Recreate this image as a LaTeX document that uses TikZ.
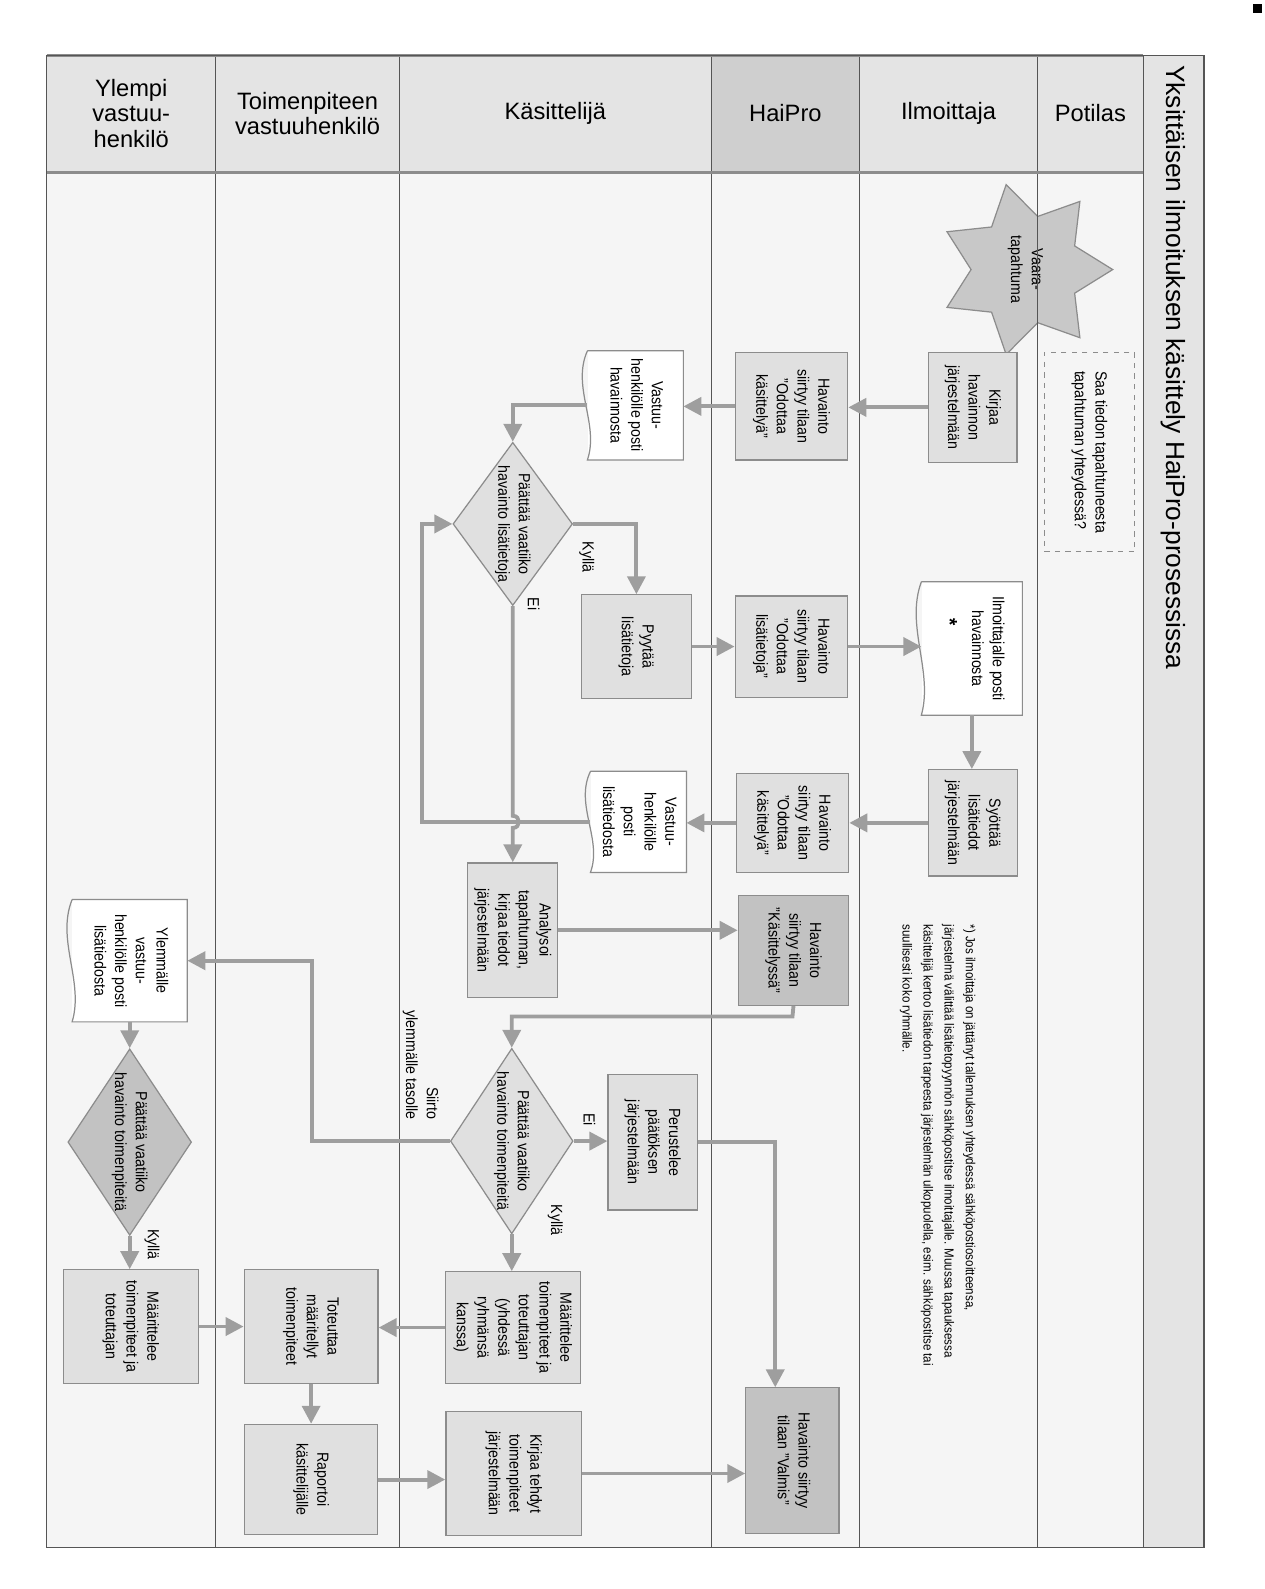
\documentclass[tikz,border=0pt]{standalone}
\usepackage{graphicx}
\usepackage{fontspec}
\setmainfont{Liberation Sans}
\newfontfamily\cond{Liberation Sans}[FakeStretch=0.88]
\usetikzlibrary{shapes.geometric,arrows.meta,calc}

\definecolor{hpbody}{HTML}{F5F5F5}
\definecolor{hphead}{HTML}{E4E4E4}
\definecolor{hphaipro}{HTML}{CFCFCF}
\definecolor{hpfill}{HTML}{E0E0E0}
\definecolor{hpdark}{HTML}{C2C2C2}
\definecolor{hpline}{HTML}{8C8C8C}
\definecolor{hparrow}{HTML}{9E9E9E}
\definecolor{hplane}{HTML}{555555}

\def\pix{0.0203cm}
\newcommand\rt[1]{\rotatebox{-90}{\begin{tabular}{@{}c@{}}#1\end{tabular}}}
\newcommand\rtl[1]{\rotatebox{-90}{\begin{tabular}{@{}l@{}}#1\end{tabular}}}
\newcommand\rtr[1]{\rotatebox{-90}{\begin{tabular}{@{}r@{}}#1\end{tabular}}}

\tikzset{
  hdr/.style={font=\fontsize{13.5}{14.5}\selectfont, align=center, inner sep=0pt},
  txt/.style={font=\cond\fontsize{9.2}{11.8}\selectfont, inner sep=0pt},
  box/.style={txt, draw=hpline, fill=hpfill, line width=0.7pt},
  darkbox/.style={box, fill=hpdark},
  doc/.style={txt, fill=white},
  decision/.style={diamond, draw=hpline, fill=hpfill, line width=0.7pt, inner sep=0pt},
  sz/.style 2 args={minimum width=#1*\pix, minimum height=#2*\pix},
  flow/.style={draw=hparrow, line width=2.2pt, -{Triangle[length=3.6mm,width=3.6mm]}},
}

\begin{document}
\begin{tikzpicture}[x=0.0203cm, y=-0.0203cm]
\useasboundingbox (0,0) rectangle (1248,1568);
\fill (1236,4) rectangle (1245,13);

% kaistat
\fill[hpbody] (46,55) rectangle (1128,1527);
\node[star, star points=7, star point ratio=1.6, shape border rotate=-90, draw=hpline, fill=hpdark!90!white,
      line width=0.7pt, inner sep=0pt, minimum size=172*\pix, label={[txt]center:{\rt{Vaara-\\tapahtuma}}}] (vaara) at (1012,266) {};
\foreach \xa/\xb/\hc/\hd in {46/213/hphead/{Ylempi\\vastuu-\\henkilö}, 213/394/hphead/{Toimenpiteen\\vastuuhenkilö},
    394/702/hphead/Käsittelijä, 702/848/hphaipro/HaiPro, 848/1024/hphead/Ilmoittaja, 1024/1128/hphead/Potilas}{
  \filldraw[fill=\hc, draw=hplane, line width=0.6pt] (\xa,55) rectangle (\xb,170);
  \draw[hplane, line width=0.6pt] (\xa,170) -- (\xa,1527);
  \node[hdr] (hd\xa) at ({(\xa+\xb)/2},112) {\hd};
}
\draw[hpline, line width=1.6pt] (46,55) -- (1128,55) (46,170) -- (1128,170);
\filldraw[fill=hphead, draw=hplane, line width=0.6pt] (1128,55) rectangle (1188,1527);
\draw[hplane, line width=0.8pt] (46,55) rectangle (1188,1527);
\node[rotate=-90, anchor=west, inner sep=0pt, font=\fontsize{15}{17}\selectfont] (otsikko) at (1158,64)
  {Yksittäisen ilmoituksen käsittely HaiPro-prosessissa};

% potilas ja ilmoittaja
\node[txt, draw=hpline, dashed, sz={89}{197}] (tieto) at (1075,446) {\rtl{Saa tiedon tapahtuneesta\\tapahtuman yhteydessä?}};
\node[box, sz={87}{108}] (kirjaa) at (960,402) {\rt{Kirjaa\\havainnon\\järjestelmään}};
\node[doc, sz={99}{131}] (posti2) at (959,640) {\rt{Ilmoittajalle posti\\havainnosta\\[5pt]{\large\bfseries *}\hspace*{30pt}}};
\node[box, sz={88}{105}] (syota) at (960,812) {\rt{Syöttää\\lisätiedot\\järjestelmään}};
\node[txt, font=\cond\fontsize{7.5}{12}\selectfont, anchor=north] (huom) at (926,912)
  {\rtl{*) Jos ilmoittaja on jättänyt tallennuksen yhteydessä sähköpostiosoitteensa,\\
  järjestelmä välittää lisätietopyynnön sähköpostitse ilmoittajalle. Muussa tapauksessa\\
  käsittelijä kertoo lisätiedon tarpeesta järjestelmän ulkopuolella, esim. sähköpostitse tai\\
  suullisesti koko ryhmälle.}};

% HaiPro
\node[box, sz={111}{106}] (hav1) at (781,401) {\rt{Havainto\\siirtyy tilaan\\”Odottaa\\käsittelyä”}};
\node[box, sz={111}{100}] (hav2) at (781,638) {\rt{Havainto\\siirtyy tilaan\\”Odottaa\\lisätietoja”}};
\node[box, sz={111}{98}] (hav3) at (782,812) {\rt{Havainto\\siirtyy tilaan\\”Odottaa\\käsittelyä”}};
\node[darkbox, sz={109}{108}] (kasittelyssa) at (783,938) {\rt{Havainto\\siirtyy tilaan\\”Käsittelyssä”}};
\node[darkbox, sz={92}{144}] (valmis) at (782,1441) {\rt{Havainto siirtyy\\tilaan ”Valmis”}};

% kasittelija
\node[doc, sz={94}{107}] (posti1) at (627,400) {\rt{Vastuu-\\henkilölle posti\\havainnosta}};
\node[decision, sz={118}{161}, label={[txt]center:{\rt{Päättää vaatiiko\\havainto lisätietoja}}}] (paat1) at (506,517) {};
\node[box, sz={108}{102}] (pyyda) at (628,638) {\rt{Pyytää\\lisätietoja}};
\node[doc, sz={94}{99}] (posti3) at (630,811) {\rt{Vastuu-\\henkilölle\\posti\\lisätiedosta}};
\node[box, sz={89}{133}] (analysoi) at (506,918) {\rt{Analysoi\\tapahtuman,\\kirjaa tiedot\\järjestelmään}};
\node[decision, sz={121}{183}, label={[txt]center:{\rt{Päättää vaatiiko\\havainto toimenpiteitä}}}] (paat2) at (505,1126) {};
\node[box, sz={88}{134}] (perustelee) at (644,1127) {\rt{Perustelee\\päätöksen\\järjestelmään}};
\node[box, sz={133}{110}] (maar1) at (506,1310) {\rt{Määrittelee\\toimenpiteet ja\\toteuttajan\\(yhdessä\\ryhmänsä\\kanssa)}};
\node[box, sz={134}{122}] (kirjaa2) at (507,1454) {\rt{Kirjaa tehdyt\\toimenpiteet\\järjestelmään}};

% toimenpiteen vastuuhenkilo
\node[box, sz={132}{112}] (toteuttaa) at (307,1309) {\rt{Toteuttaa\\määritellyt\\toimenpiteet}};
\node[box, sz={131}{109}] (raportoi) at (307,1460) {\rt{Raportoi\\käsittelijälle}};

% ylempi vastuuhenkilo
\node[doc, sz={113}{120}] (ylposti) at (128,948) {\rt{Ylemmälle\\vastuu-\\henkilölle posti\\lisätiedosta}};
\node[decision, fill=hpdark, sz={122}{184}, label={[txt]center:{\rt{Päättää vaatiiko\\havainto toimenpiteitä}}}] (ylpaat) at (128,1127) {};
\node[box, sz={133}{112}] (ylmaar) at (129,1309) {\rt{Määrittelee\\toimenpiteet ja\\toteuttajan}};

% asiakirjojen reunat
\foreach \d in {posti1,posti2,posti3,ylposti}
  \draw[hpline, line width=0.7pt] (\d.north west) -- (\d.north east) -- (\d.south east) -- (\d.south west)
    .. controls ($(\d.south west)!0.33!(\d.north west)+(12,0)$) and ($(\d.south west)!0.67!(\d.north west)+(-16,0)$) .. (\d.north west);

% yhteydet
\coordinate (kierto) at (416,811);
\coordinate (hyppy) at (506,811);
\coordinate (kaanne) at (782,1003);
\coordinate (valmisyla) at (765,1369);
\coordinate (siirto) at (308,948);

\draw[flow] (kirjaa.west) -- (kirjaa.west -| hav1.east);
\draw[flow] (hav1.west) -- (hav1.west -| posti1.east);
\draw[flow] (posti1.west) -| (paat1.north);
\draw[flow] (paat1.east) -| (pyyda.north);
\draw[flow] (pyyda.east) -- (pyyda.east -| hav2.west);
\draw[flow] (hav2.east) -- (hav2.east -| posti2.west);
\draw[flow] (posti2.south) -- (posti2.south |- syota.north);
\draw[flow] (syota.west) -- (syota.west -| hav3.east);
\draw[flow] (hav3.west) -- (hav3.west -| posti3.east);
\draw[flow] (posti3.west) -- (kierto) |- (paat1.west);
\draw[flow] (paat1.south) -- ($(hyppy)+(0,-6)$) .. controls +(8,0) and +(8,0) .. ($(hyppy)+(0,6)$) -- (analysoi.north);
\draw[flow] (analysoi.east) -- (analysoi.east -| kasittelyssa.west);
\draw[flow] (kasittelyssa.south) -- (kaanne) -| (paat2.north);
\draw[flow] (paat2.east) -- (paat2.east -| perustelee.west);
\draw[flow] (perustelee.east) -| (valmisyla);
\draw[flow] (paat2.south) -- (paat2.south |- maar1.north);
\draw[flow] (paat2.west) -| (siirto) -- (ylposti.east);
\draw[flow] (ylposti.south) -- (ylpaat.north);
\draw[flow] (ylpaat.south) -- (ylpaat.south |- ylmaar.north);
\draw[flow] (ylmaar.east) -- (ylmaar.east -| toteuttaa.west);
\draw[flow] (maar1.west) -- (maar1.west -| toteuttaa.east);
\draw[flow] (toteuttaa.south) -- (toteuttaa.south |- raportoi.north);
\draw[flow] (raportoi.east) -- (raportoi.east -| kirjaa2.west);
\draw[flow] (kirjaa2.east) -- (kirjaa2.east -| valmis.west);

% nuolten tekstit
\node[txt] (kylla1) at (579,550) {\rt{Kyllä}};
\node[txt] (ei1) at (525,596) {\rt{Ei}};
\node[txt] (ei2) at (580,1105) {\rt{Ei}};
\node[txt] (kylla2) at (548,1204) {\rt{Kyllä}};
\node[txt] (siirtoteksti) at (415,1051) {\rtr{Siirto\\ylemmälle tasolle}};
\node[txt] (kylla3) at (150,1228) {\rt{Kyllä}};
\end{tikzpicture}
\end{document}
